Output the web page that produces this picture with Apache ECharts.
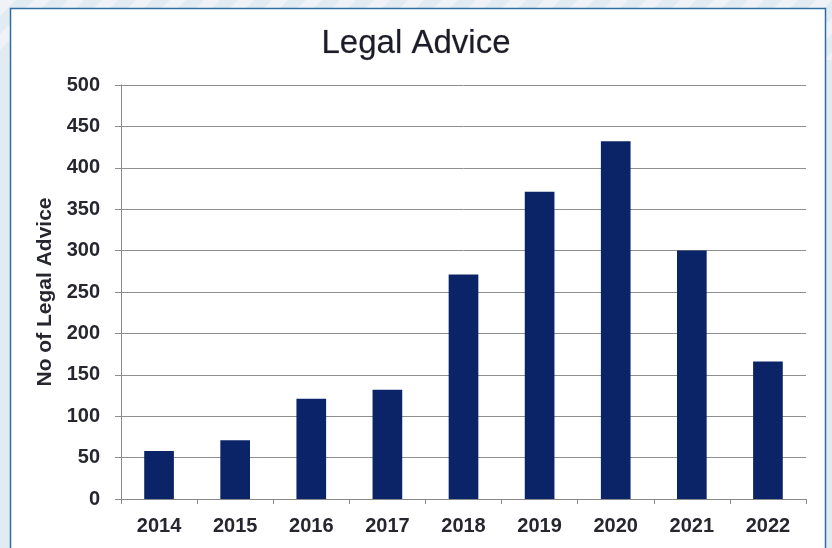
<!DOCTYPE html>
<html>
<head>
<meta charset="utf-8">
<script src="https://cdn.jsdelivr.net/npm/echarts@6/dist/echarts.min.js"></script>
<style>
  html, body { margin: 0; padding: 0; background: #e2eaf2; }
  #chart { width: 832px; height: 548px; }
</style>
</head>
<body>
<div id="chart"></div>
<script>
// Annual count of legal advice given
const years = ['2014', '2015', '2016', '2017', '2018', '2019', '2020', '2021', '2022'];
const adviceCounts = [58, 71, 121, 132, 271, 371, 432, 300, 166];
const yTicks = { min: 0, max: 500, interval: 50 };

const chart = echarts.init(document.getElementById('chart'), null, { renderer: 'canvas' });

const FONT = 'Liberation Sans, Arial, Helvetica, sans-serif';
const INK = '#26262f';

// faint diagonal stripes on the page backdrop
const stripes = [];
for (let i = -6; i < 40; i++) {
  const x0 = i * 34;
  stripes.push({
    type: 'polygon',
    silent: true,
    shape: { points: [[x0, 0], [x0 + 16, 0], [x0 + 16 - 60, 60], [x0 - 60, 60]] },
    style: { fill: 'rgba(255,255,255,0.45)' },
    z: -20
  });
}

chart.setOption({
  backgroundColor: '#e2eaf2',
  animation: false,
  graphic: stripes.concat([
    {
      type: 'rect',
      silent: true,
      shape: { x: 10.5, y: 8.5, width: 815, height: 560 },
      style: { fill: '#ffffff', stroke: '#2f6f9f', lineWidth: 1.5 },
      z: -10
    }
  ]),
  title: {
    text: 'Legal Advice',
    left: 'center',
    top: 22,
    textStyle: {
      fontFamily: FONT,
      fontSize: 33,
      fontWeight: 'normal',
      color: '#1c1c28',
      textBorderColor: 'rgba(28,28,40,0.35)',
      textBorderWidth: 0.6
    }
  },
  grid: { left: 121, right: 26, top: 85, bottom: 49, containLabel: false },
  xAxis: {
    type: 'category',
    data: years,
    axisLine: { lineStyle: { color: '#8a8a8a', width: 1 } },
    axisTick: { show: true, alignWithLabel: false, length: 5, lineStyle: { color: '#8a8a8a' } },
    axisLabel: {
      margin: 17,
      fontFamily: FONT,
      fontSize: 20,
      fontWeight: 'bold',
      color: INK
    }
  },
  yAxis: {
    type: 'value',
    min: yTicks.min,
    max: yTicks.max,
    interval: yTicks.interval,
    name: 'No of Legal Advice',
    nameLocation: 'middle',
    nameGap: 64,
    nameRotate: 90,
    nameTextStyle: {
      fontFamily: FONT,
      fontSize: 21,
      fontWeight: 'bold',
      color: INK
    },
    axisLine: { show: true, lineStyle: { color: '#8a8a8a', width: 1 } },
    axisTick: { show: true, length: 6, lineStyle: { color: '#8a8a8a' } },
    axisLabel: {
      margin: 21,
      fontFamily: FONT,
      fontSize: 20,
      fontWeight: 'bold',
      color: INK
    },
    splitLine: { show: true, lineStyle: { color: '#8f8f8f', width: 1 } }
  },
  series: [{
    type: 'bar',
    data: adviceCounts,
    barWidth: '39%',
    itemStyle: { color: '#0b2468' }
  }]
});
</script>
</body>
</html>
